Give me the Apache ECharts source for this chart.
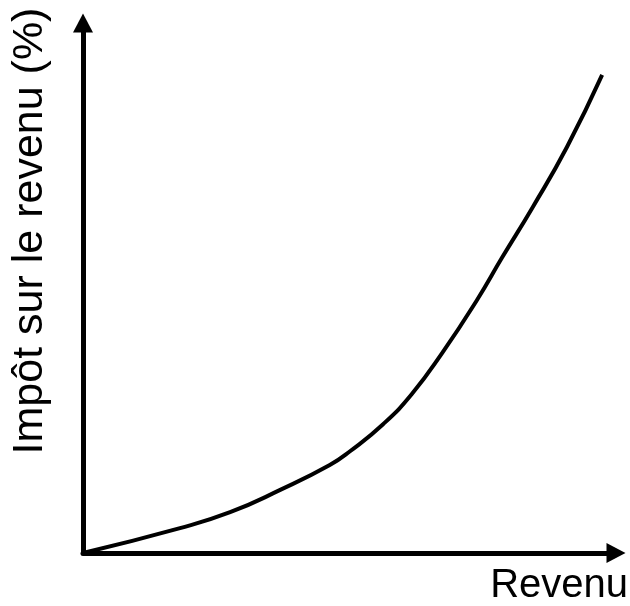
<!DOCTYPE html>
<html>
<head>
<meta charset="utf-8">
<script src="https://cdn.jsdelivr.net/npm/echarts@6/dist/echarts.min.js"></script>
<style>
html, body { margin: 0; padding: 0; background: #fff; }
#chart { width: 630px; height: 606px; }
</style>
</head>
<body>
<div id="chart"></div>
<script>
// curve, arbitrary units (0..100 on both axes)
var revenu = [0, 18.2, 27.6, 37.0, 46.3, 50.1, 56.3, 61.7, 67.5, 73.9, 78.6, 84.4, 90.8, 97.4];
var impot  = [0, 4.7, 7.7, 11.9, 16.6, 19.2, 24.3, 30.0, 37.9, 47.7, 55.7, 65.3, 76.6, 90.2];
var xLabel = 'Revenu';
var yLabel = 'Impôt sur le revenu (%)';

function pairs(xs, ys){
    var out = [];
    for(var i=0;i<xs.length;i++)
        out.push([xs[i], ys[i]]);
    return out;
}

var chart = echarts.init(document.getElementById('chart'));
var axisLine = {
    show: true,
    symbol: ['none', 'triangle'],
    symbolSize: [20, 19],
    lineStyle: { color: '#000', width: 5 }
};
var option = {
    animation: false,
    backgroundColor: '#fff',
    grid: { left: 83, right: 14, top: 23, bottom: 53 },
    xAxis: {
        type: 'value', min: 0, max: 100,
        axisLine: axisLine,
        axisTick: { show: false }, axisLabel: { show: false }, splitLine: { show: false }
    },
    yAxis: {
        type: 'value', min: 0, max: 100,
        axisLine: axisLine,
        axisTick: { show: false }, axisLabel: { show: false }, splitLine: { show: false }
    },
    graphic: [
        {
            type: 'text', x: 628, y: 586,
            style: { text: xLabel, font: '40px "Liberation Sans", Arial, sans-serif', fill: '#000',
                     align: 'right', verticalAlign: 'middle' }
        },
        {
            type: 'text', x: 30, y: 231, rotation: Math.PI / 2,
            style: { text: yLabel, font: '43px "Liberation Sans", Arial, sans-serif', fill: '#000',
                     align: 'center', verticalAlign: 'middle' }
        }
    ],
    series: [{
        type: 'line',
        data: pairs(revenu, impot),
        smooth: 0.5,
        showSymbol: false,
        z: 1,
        lineStyle: { color: '#000', width: 4 }
    }]
};
chart.setOption(option);
</script>
</body>
</html>
